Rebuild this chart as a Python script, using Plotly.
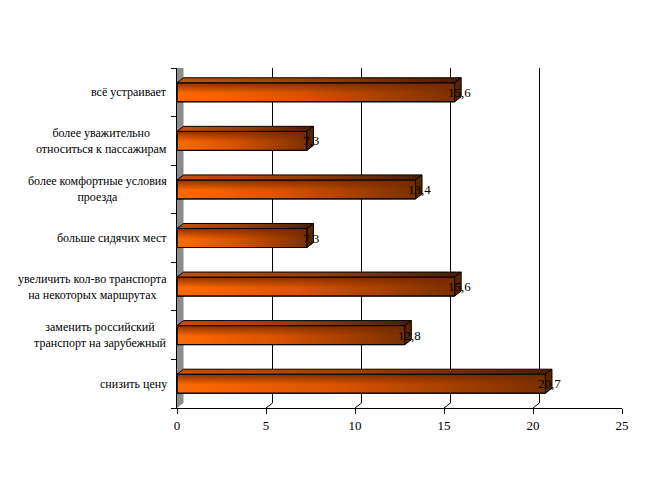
import plotly.graph_objects as go

# data, top to bottom as in the picture
categories = [
    "всё устраивает",
    "более уважительно<br>относиться к пассажирам",
    "более комфортные условия<br>проезда",
    "больше сидячих мест",
    "увеличить кол-во транспорта<br>на некоторых маршрутах",
    "заменить российский<br>транспорт на зарубежный",
    "снизить цену",
]
values = [15.6, 7.3, 13.4, 7.3, 15.6, 12.8, 20.7]
x_ticks = [0, 5, 10, 15, 20, 25]
value_labels = ["15,6", "7,3", "13,4", "7,3", "15,6", "12,8", "20,7"]

n = len(categories)
pos = [n - 1 - i for i in range(n)]

# fake 3d depth, in data units (about 6.5px right, 5px up)
DX = 6.5 / 17.8
DY = 5 / 48.57
H = 0.196
FONT = "Liberation Serif"

fig = go.Figure()

for v, c in zip(values, pos):
    # front face, horizontal gradient
    fig.add_trace(go.Scatter(
        x=[0, v, v, 0, 0], y=[c - H, c - H, c + H, c + H, c - H],
        mode="lines", fill="toself", line=dict(color="black", width=1),
        fillgradient=dict(type="horizontal",
                          colorscale=[[0, "#ff6a00"], [0.45, "#d85200"], [1, "#7a3000"]]),
        hoverinfo="skip", showlegend=False))
    # darker upper edge of the front face
    fig.add_trace(go.Scatter(
        x=[0, v, v, 0, 0], y=[c - H, c - H, c + H, c + H, c - H],
        mode="lines", fill="toself", line=dict(color="black", width=1),
        fillgradient=dict(type="vertical", start=c - H, stop=c + H,
                          colorscale=[[0, "rgba(120,40,0,0)"], [0.45, "rgba(120,40,0,0)"],
                                      [1, "rgba(110,40,0,0.85)"]]),
        hoverinfo="skip", showlegend=False))
    # top face
    fig.add_trace(go.Scatter(
        x=[0, v, v + DX, DX, 0], y=[c + H, c + H, c + H + DY, c + H + DY, c + H],
        mode="lines", fill="toself", line=dict(color="black", width=1),
        fillgradient=dict(type="horizontal",
                          colorscale=[[0, "#c85000"], [0.5, "#9a3c00"], [1, "#4a1e00"]]),
        hoverinfo="skip", showlegend=False))
    # side face
    fig.add_trace(go.Scatter(
        x=[v, v + DX, v + DX, v, v], y=[c - H, c - H + DY, c + H + DY, c + H, c - H],
        mode="lines", fill="toself", line=dict(color="black", width=1),
        fillcolor="#5a2400", hoverinfo="skip", showlegend=False))

# back wall gridlines
for g in x_ticks[1:-1]:
    fig.add_shape(type="path", layer="below",
                  path=f"M {g},-0.5 L {g + DX},{-0.5 + DY} L {g + DX},{6.5 + DY}",
                  line=dict(color="black", width=1))

# grey side wall
fig.add_shape(type="path", layer="below",
              path=f"M 0,-0.5 L {DX},{-0.5 + DY} L {DX},{6.5 + DY} L 0,6.5 Z",
              fillcolor="#8c8c8c", line=dict(color="#8c8c8c", width=0))

for lab, c in zip(categories, pos):
    fig.add_annotation(x=0, y=c, xref="x", yref="y", text=lab, showarrow=False,
                       xanchor="right", xshift=-8, align="center",
                       font=dict(family=FONT, size=12, color="black"))

for v, c, t in zip(values, pos, value_labels):
    fig.add_annotation(x=v + 0.25, y=c, xref="x", yref="y", text=t, showarrow=False,
                       xanchor="center", font=dict(family=FONT, size=13, color="black"))

fig.update_xaxes(range=[0, 25], tickvals=x_ticks, ticks="outside", ticklen=5,
                 tickcolor="black", showline=True, linecolor="black", linewidth=1,
                 showgrid=False, zeroline=False,
                 tickfont=dict(family=FONT, size=13, color="black"))
fig.update_yaxes(range=[-0.5, 6.5], tickvals=[i - 0.5 for i in range(n + 1)],
                 ticktext=[""] * (n + 1), ticks="outside", ticklen=5, tickcolor="black",
                 showline=True, linecolor="black", linewidth=1,
                 showgrid=False, zeroline=False)

# page body has an 8px margin, so the figure is a bit smaller than the window
fig.update_layout(
    width=645, height=484,
    margin=dict(l=169, r=31, t=60, b=84),
    plot_bgcolor="white", paper_bgcolor="white",
    font=dict(family=FONT, color="black"),
    showlegend=False,
)

fig.write_html("out.html")
